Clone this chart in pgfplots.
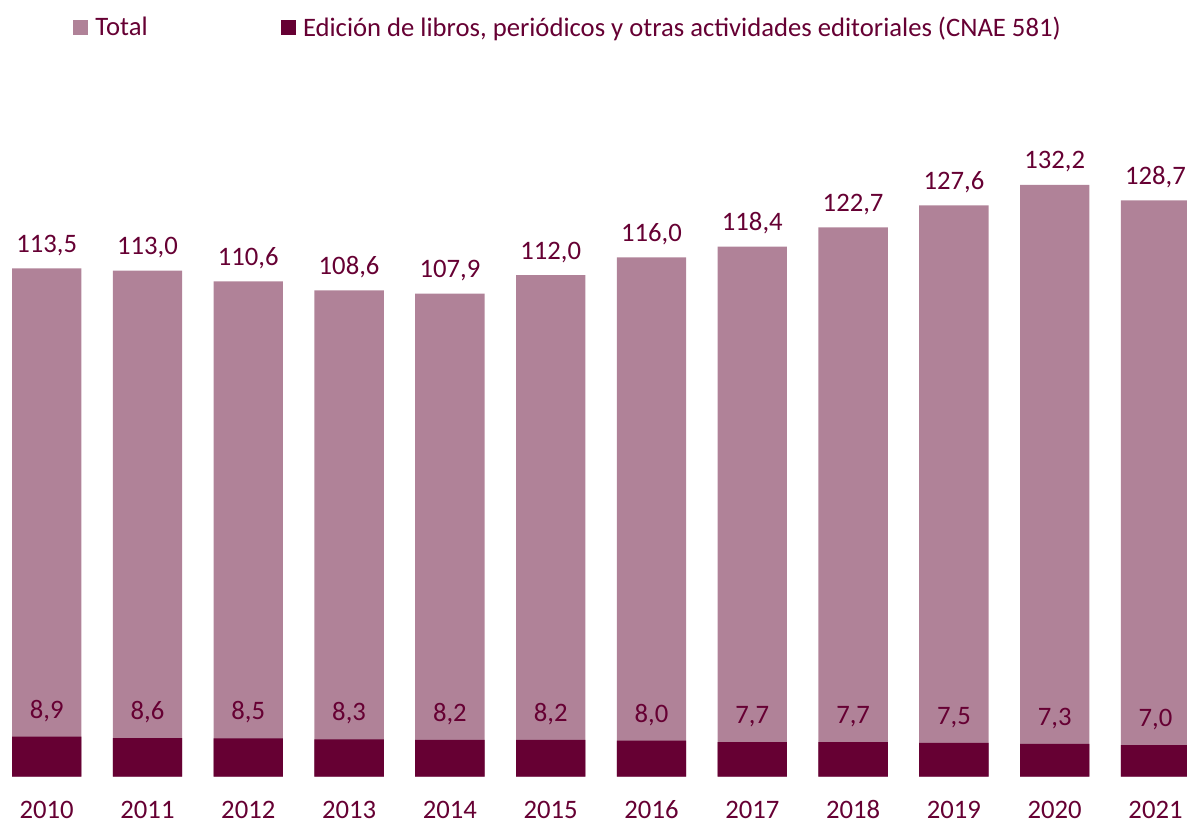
\documentclass[border=0pt]{standalone}
\usepackage{pgfplots}
\pgfplotsset{compat=1.18}
\usepackage{fontspec}
\setmainfont{Carlito}
\definecolor{light}{RGB}{176,130,152}
\definecolor{dark}{RGB}{102,0,51}
\begin{document}
\begin{tikzpicture}
\useasboundingbox (0,0) rectangle (890.25pt,616.5pt);
\begin{axis}[
  at={(0pt,34.1pt)}, anchor=south west,
  scale only axis, width=890.25pt, height=470pt,
  xmin=-0.463, xmax=11.3125, ymin=0, ymax=140,
  ybar, bar width=52pt, bar shift=0pt,
  axis line style={draw=none},
  ytick=\empty,
  xtick={0,...,11},
  xticklabels={2010,2011,2012,2013,2014,2015,2016,2017,2018,2019,2020,2021},
  major tick length=0pt,
  xticklabel style={anchor=base, yshift=-31.5pt, inner sep=0pt, font=\fontsize{20}{24}\selectfont, text=dark},
  nodes near coords,
  every node near coord/.append style={font=\fontsize{20}{24}\selectfont, text=dark, anchor=base, inner sep=0pt},
  /pgf/number format/.cd, use comma, fixed, fixed zerofill, precision=1, assume math mode=true,
  /pgfplots/.cd,
  legend columns=2,
  legend style={draw=none, fill=none, at={(0.0619,1.195)}, anchor=west, inner sep=0pt, outer sep=0pt,
    font=\fontsize{20}{24}\selectfont, text=dark,
    /tikz/every even column/.append style={column sep=100pt},
    nodes={inner sep=0pt}},
  legend image code/.code={\fill[#1] (0pt,-5.5pt) rectangle (11pt,5.5pt); \path (16.5pt,0pt);},
]
\addplot[fill=light, draw=none, every node near coord/.append style={yshift=12pt}] coordinates {
(0,113.5) (1,113.0) (2,110.6) (3,108.6) (4,107.9) (5,112.0) (6,116.0) (7,118.4) (8,122.7) (9,127.6) (10,132.2) (11,128.7)};
\addplot[fill=dark, draw=none, every node near coord/.append style={yshift=14pt}] coordinates {
(0,8.9) (1,8.6) (2,8.5) (3,8.3) (4,8.2) (5,8.2) (6,8.0) (7,7.7) (8,7.7) (9,7.5) (10,7.3) (11,7.0)};
\legend{{Total}, {Edición de libros, periódicos y otras actividades editoriales (CNAE 581)}}
\end{axis}
\end{tikzpicture}
\end{document}
